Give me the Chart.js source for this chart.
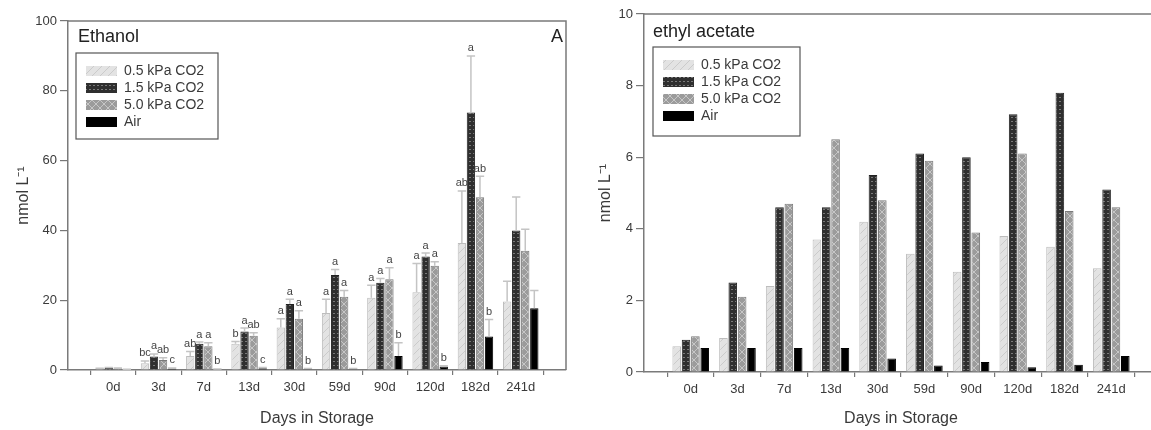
<!DOCTYPE html>
<html>
<head>
<meta charset="utf-8">
<script src="https://cdn.jsdelivr.net/npm/chart.js@4.4.1/dist/chart.umd.min.js"></script>
<style>
html, body { margin: 0; padding: 0; background: #fff; overflow: hidden; }
#wrap { position: relative; width: 1151px; height: 430px; overflow: hidden; }
#chartEthanol { position: absolute; left: 0; top: 0; }
#chartEthylAcetate { position: absolute; left: 590px; top: 0; }
</style>
</head>
<body>
<div id="wrap">
    <canvas id="chartEthanol" width="580" height="430"></canvas>
    <canvas id="chartEthylAcetate" width="580" height="430"></canvas>
</div>
<script>
// categories and series
const days = ['0d', '3d', '7d', '13d', '30d', '59d', '90d', '120d', '182d', '241d'];
const seriesNames = ['0.5 kPa CO2', '1.5 kPa CO2', '5.0 kPa CO2', 'Air'];

// Ethanol, nmol L-1
const eth_05 = [0.4, 1.9, 4.0, 7.5, 12.2, 16.3, 20.7, 22.3, 36.4, 19.6];
const eth_15 = [0.6, 3.9, 7.5, 11.0, 18.9, 27.2, 25.0, 32.5, 73.8, 40.0];
const eth_50 = [0.5, 2.9, 6.8, 9.8, 14.7, 21.0, 26.0, 29.9, 49.5, 34.2];
const eth_air = [0.2, 0.4, 0.2, 0.5, 0.3, 0.3, 4.0, 1.0, 9.6, 17.7];

// Ethanol error (upper, SE)
const eth_05_err = [0.1, 0.7, 1.3, 0.7, 2.5, 4.0, 3.6, 8.2, 14.9, 5.8];
const eth_15_err = [0.1, 0.7, 0.5, 1.0, 1.4, 1.6, 1.2, 1.0, 16.2, 9.6];
const eth_50_err = [0.1, 0.6, 1.0, 0.9, 2.3, 1.8, 3.3, 1.1, 6.0, 6.1];
const eth_air_err = [0.05, 0.2, 0.1, 0.2, 0.1, 0.1, 3.8, 0.2, 4.9, 5.1];

// Ethanol significance letters
const eth_05_lbl = ['', 'bc', 'ab', 'b', 'a', 'a', 'a', 'a', 'ab', ''];
const eth_15_lbl = ['', 'a', 'a', 'a', 'a', 'a', 'a', 'a', 'a', ''];
const eth_50_lbl = ['', 'ab', 'a', 'ab', 'a', 'a', 'a', 'a', 'ab', ''];
const eth_air_lbl = ['', 'c', 'b', 'c', 'b', 'b', 'b', 'b', 'b', ''];

// Ethyl acetate, nmol L-1
const ea_05 = [0.72, 0.95, 2.4, 3.7, 4.2, 3.3, 2.8, 3.8, 3.5, 2.9];
const ea_15 = [0.9, 2.5, 4.6, 4.6, 5.5, 6.1, 6.0, 7.2, 7.8, 5.1];
const ea_50 = [1.0, 2.1, 4.7, 6.5, 4.8, 5.9, 3.9, 6.1, 4.5, 4.6];
const ea_air = [0.67, 0.67, 0.67, 0.67, 0.38, 0.18, 0.28, 0.13, 0.2, 0.45];

const FONT = '"Liberation Sans", Arial, sans-serif';
const TXT = '#3a3a3a';

// fill patterns
function makePattern(kind) {
    const c = document.createElement('canvas');
    const p = c.getContext('2d');
    if (kind == 'hatch') {
        c.width = 8; c.height = 8;
        p.fillStyle = '#e3e3e3';
        p.fillRect(0, 0, 8, 8);
        p.strokeStyle = '#cbcbcb';
        p.lineWidth = 1;
        p.beginPath();
        p.moveTo(0, 8); p.lineTo(8, 0);
        p.moveTo(-1, 1); p.lineTo(1, -1);
        p.moveTo(7, 9); p.lineTo(9, 7);
        p.stroke();
    } else if (kind == 'dots') {
        c.width = 4; c.height = 4;
        p.fillStyle = '#2f2f2f';
        p.fillRect(0, 0, 4, 4);
        p.fillStyle = '#7a7a7a';
        p.fillRect(1, 1, 2, 1);
    } else {
        c.width = 8; c.height = 8;
        p.fillStyle = '#9b9b9b';
        p.fillRect(0, 0, 8, 8);
        p.strokeStyle = '#c6c6c6';
        p.lineWidth = 1;
        p.beginPath();
        p.moveTo(0, 0); p.lineTo(8, 8);
        p.moveTo(0, 8); p.lineTo(8, 0);
        p.stroke();
    }
    return p.createPattern(c, 'repeat');
}

const fills = [makePattern('hatch'), makePattern('dots'), makePattern('cross'), '#000000'];
const edges = ['#bdbdbd', '#222222', '#7a7a7a', '#000000'];

const framePlugin = {
    id: 'framePlugin',
    afterDatasetsDraw: function (chart, args, options) {
        const { ctx, scales: { y } } = chart;
        if (!options.errors) return;
        ctx.save();
        chart.data.datasets.forEach((ds, i) => {
            const meta = chart.getDatasetMeta(i);
            meta.data.forEach((bar, j) => {
                const v = ds.data[j].y;
                const top = y.getPixelForValue(v + options.errors[i][j]);
                const w = bar.width / 2;
                ctx.strokeStyle = '#c4c4c4';
                ctx.lineWidth = 1.5;
                ctx.beginPath();
                ctx.moveTo(bar.x, bar.y);
                ctx.lineTo(bar.x, top);
                ctx.moveTo(bar.x - w, top);
                ctx.lineTo(bar.x + w, top);
                ctx.stroke();

                const lbl = options.letters[i][j];
                if (lbl) {
                    ctx.font = '11px ' + FONT;
                    ctx.fillStyle = '#444';
                    ctx.textAlign = 'center';
                    ctx.textBaseline = 'bottom';
                    ctx.fillText(lbl, bar.x, top - 2);
                }
            });
        });
        ctx.restore();
    },
    afterDraw: function (chart, args, options) {
        const { ctx, chartArea: a } = chart;
        ctx.save();
        // top and right frame
        ctx.strokeStyle = '#7a7a7a';
        ctx.lineWidth = 1.5;
        ctx.beginPath();
        ctx.moveTo(a.left, a.top);
        ctx.lineTo(a.right, a.top);
        ctx.lineTo(a.right, a.bottom);
        ctx.stroke();

        // panel titles
        ctx.fillStyle = '#222';
        ctx.font = '18px ' + FONT;
        ctx.textBaseline = 'middle';
        ctx.textAlign = 'left';
        ctx.fillText(options.title, a.left + options.titleX, a.top + options.titleY);
        if (options.corner) {
            ctx.textAlign = 'right';
            ctx.fillText(options.corner, a.right - 3, a.top + 16);
        }

        // legend box
        const lx = a.left + options.legX, ly = a.top + options.legY;
        ctx.strokeStyle = '#555';
        ctx.lineWidth = 1.2;
        ctx.strokeRect(lx, ly, options.legW, options.legH);
        ctx.font = '14px ' + FONT;
        ctx.textAlign = 'left';
        chart.data.datasets.forEach((ds, i) => {
            const cy = ly + 18 + i * 17;
            ctx.fillStyle = ds.backgroundColor;
            ctx.fillRect(lx + 10, cy - 5, 31, 10);
            ctx.fillStyle = TXT;
            ctx.fillText(ds.label, lx + 48, cy);
        });
        ctx.restore();
    }
};

function buildChart(id, series, cfg) {
    const ctx = document.getElementById(id).getContext('2d');
    const datasets = series.map((vals, i) => ({
        label: seriesNames[i],
        data: vals.map((v, j) => ({ x: j, y: v })),
        backgroundColor: fills[i],
        borderColor: edges[i],
        borderWidth: 1,
        categoryPercentage: 0.8,
        barPercentage: 0.92
    }));

    return new Chart(ctx, {
        type: 'bar',
        data: { datasets: datasets },
        plugins: [framePlugin],
        options: {
            responsive: false,
            animation: false,
            layout: { padding: cfg.padding },
            plugins: {
                legend: { display: false },
                tooltip: { enabled: false },
                framePlugin: cfg.frame
            },
            scales: {
                x: {
                    type: 'linear',
                    offset: false,
                    min: -1,
                    max: 10,
                    afterBuildTicks: function (s) {
                        s.ticks = days.map((d, i) => ({ value: i }));
                    },
                    afterFit: function (s) { s.height = cfg.xHeight; },
                    ticks: {
                        autoSkip: false,
                        maxRotation: 0,
                        padding: 5,
                        color: TXT,
                        font: { family: FONT, size: 13 },
                        callback: function (v) { return days[v]; }
                    },
                    grid: { drawOnChartArea: false, tickLength: 5, color: '#777', lineWidth: 1.2 },
                    border: { color: '#7a7a7a', width: 1.5 },
                    title: {
                        display: true,
                        text: 'Days in Storage',
                        color: TXT,
                        font: { family: FONT, size: 16 },
                        padding: { top: 4, bottom: 2 }
                    }
                },
                y: {
                    min: 0,
                    max: cfg.yMax,
                    afterFit: function (s) { s.width = cfg.yWidth; },
                    ticks: {
                        stepSize: cfg.yStep,
                        padding: 3,
                        color: TXT,
                        font: { family: FONT, size: 13 }
                    },
                    grid: { drawOnChartArea: false, tickLength: 8, color: '#777', lineWidth: 1.2 },
                    border: { color: '#7a7a7a', width: 1.5 },
                    title: {
                        display: true,
                        text: 'nmol L\u207B\u00B9',
                        color: TXT,
                        font: { family: FONT, size: 16 },
                        padding: 4
                    }
                }
            }
        }
    });
}

buildChart('chartEthanol', [eth_05, eth_15, eth_50, eth_air], {
    padding: { left: 10, top: 21, right: 14, bottom: 0 },
    xHeight: 60,
    yWidth: 58,
    yMax: 100,
    yStep: 20,
    frame: {
        title: 'Ethanol', titleX: 10, titleY: 16, corner: 'A',
        legX: 8, legY: 32, legW: 142, legH: 86,
        errors: [eth_05_err, eth_15_err, eth_50_err, eth_air_err],
        letters: [eth_05_lbl, eth_15_lbl, eth_50_lbl, eth_air_lbl]
    }
});

buildChart('chartEthylAcetate', [ea_05, ea_15, ea_50, ea_air], {
    padding: { left: 2, top: 14, right: 12, bottom: 0 },
    xHeight: 58,
    yWidth: 52,
    yMax: 10,
    yStep: 2,
    frame: {
        title: 'ethyl acetate', titleX: 9, titleY: 18, corner: '',
        legX: 9, legY: 33, legW: 147, legH: 89
    }
});
</script>
</body>
</html>
